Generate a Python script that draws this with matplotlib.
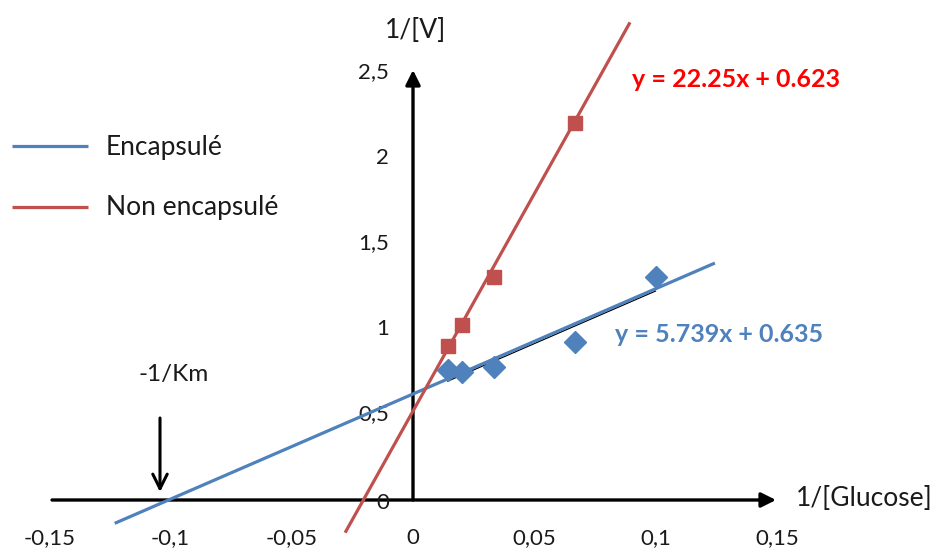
import numpy as np
import matplotlib
matplotlib.use("Agg")
import matplotlib.pyplot as plt
import matplotlib.transforms as mtransforms

plt.rcParams['font.family'] = ['Lato', 'DejaVu Sans']

# ---- data ----
x_enc = [1/70, 1/50, 1/30, 1/15, 1/10]
y_enc = [0.760, 0.749, 0.778, 0.924, 1.304]
x_non = [1/70, 1/50, 1/30, 1/15]
y_non = [0.901, 1.023, 1.304, 2.205]

# trendlines as drawn (slope, intercept)
enc_fit = [6.15, 0.62]
non_fit = [25.4, 0.52]
enc_line_range = [-0.123, 0.1245]
non_line_range = [-0.028, 0.0895]

xticks = [-0.15, -0.1, -0.05, 0, 0.05, 0.1, 0.15]
xticklabels = ['-0,15', '-0,1', '-0,05', '0', '0,05', '0,1', '0,15']
yticks = [0, 0.5, 1, 1.5, 2, 2.5]
yticklabels = ['0', '0,5', '1', '1,5', '2', '2,5']

series_names = ['Encapsulé', 'Non encapsulé']
eq_enc = 'y = 5.739x + 0.635'
eq_non = 'y = 22.25x + 0.623'

BLUE = '#4F81BD'
RED = '#C0504D'
TXT = '#1a1a1a'

W, H = 949, 551
fig = plt.figure(figsize=(W/100, H/100), dpi=100)
ax = fig.add_axes([0, 0, 1, 1])
# pixel mapping: x0 at px 413, 2425 px/unit; y0 at py 500, 171 px/unit
def px2x(px): return (px - 413) / 2425
def py2y(py): return (500 - py) / 171
ax.set_xlim(px2x(0), px2x(W))
ax.set_ylim(py2y(H), py2y(0))
ax.axis('off')

# axes with arrows
ax.annotate('', xy=(px2x(776), 0), xytext=(px2x(52), 0),
            arrowprops=dict(arrowstyle='-|>', color='black', lw=2.4,
                            mutation_scale=22, shrinkA=0, shrinkB=0))
ax.annotate('', xy=(0, py2y(70)), xytext=(0, 0),
            arrowprops=dict(arrowstyle='-|>', color='black', lw=2.4,
                            mutation_scale=22, shrinkA=0, shrinkB=0))

# tick labels
for v, lab in zip(xticks, xticklabels):
    ax.text(v, py2y(538), lab, ha='center', va='center', fontsize=16, color=TXT)
for v, lab in zip(yticks, yticklabels):
    yy = v if v > 0 else py2y(503)
    ax.text(px2x(389), yy, lab, ha='right', va='center', fontsize=16, color=TXT)

ax.text(px2x(796), py2y(498), '1/[Glucose]', ha='left', va='center', fontsize=19, color=TXT)
ax.text(px2x(416), py2y(30), '1/[V]', ha='center', va='center', fontsize=19, color=TXT)

# trend lines
xe = np.array(enc_line_range)
xn = np.array(non_line_range)
ax.plot(xe, np.polyval(enc_fit, xe), color=BLUE, lw=2.3, zorder=3, solid_capstyle='butt')
# thin black fit line just under the blue one
off = mtransforms.offset_copy(ax.transData, fig=fig, x=0, y=-1.6, units='points')
xb = np.array([x_enc[0], x_enc[-1]])
ax.plot(xb, np.polyval(enc_fit, xb), color='black', lw=0.9, zorder=2.5, transform=off)
ax.plot(xn, np.polyval(non_fit, xn), color=RED, lw=2.3, zorder=3, solid_capstyle='butt')

# markers
ax.plot(x_enc, y_enc, 'D', color=BLUE, ms=11.5, zorder=4, mec=BLUE)
ax.plot(x_non, y_non, 's', color=RED, ms=10.5, zorder=4, mec=RED)

# equations
ax.text(px2x(632), py2y(79), eq_non, color='#FF0000', fontsize=18, fontweight='bold', ha='left', va='center')
ax.text(px2x(615), py2y(335), eq_enc, color=BLUE, fontsize=18, fontweight='bold', ha='left', va='center')

# legend (manual)
ax.plot([px2x(12), px2x(88)], [py2y(146)] * 2, color=BLUE, lw=2.3, solid_capstyle='butt')
ax.plot([px2x(12), px2x(88)], [py2y(207)] * 2, color=RED, lw=2.3, solid_capstyle='butt')
ax.text(px2x(106), py2y(147), series_names[0], fontsize=19, ha='left', va='center', color=TXT)
ax.text(px2x(106), py2y(208), series_names[1], fontsize=19, ha='left', va='center', color=TXT)

# -1/Km annotation
ax.text(px2x(174), py2y(375), '-1/Km', fontsize=17.5, ha='center', va='center', color=TXT)
ax.annotate('', xy=(px2x(160), py2y(492)), xytext=(px2x(160), py2y(418)),
            arrowprops=dict(arrowstyle='->', color='black', lw=2.2, mutation_scale=26,
                            shrinkA=0, shrinkB=0))

fig.savefig('out.png', dpi=100)
